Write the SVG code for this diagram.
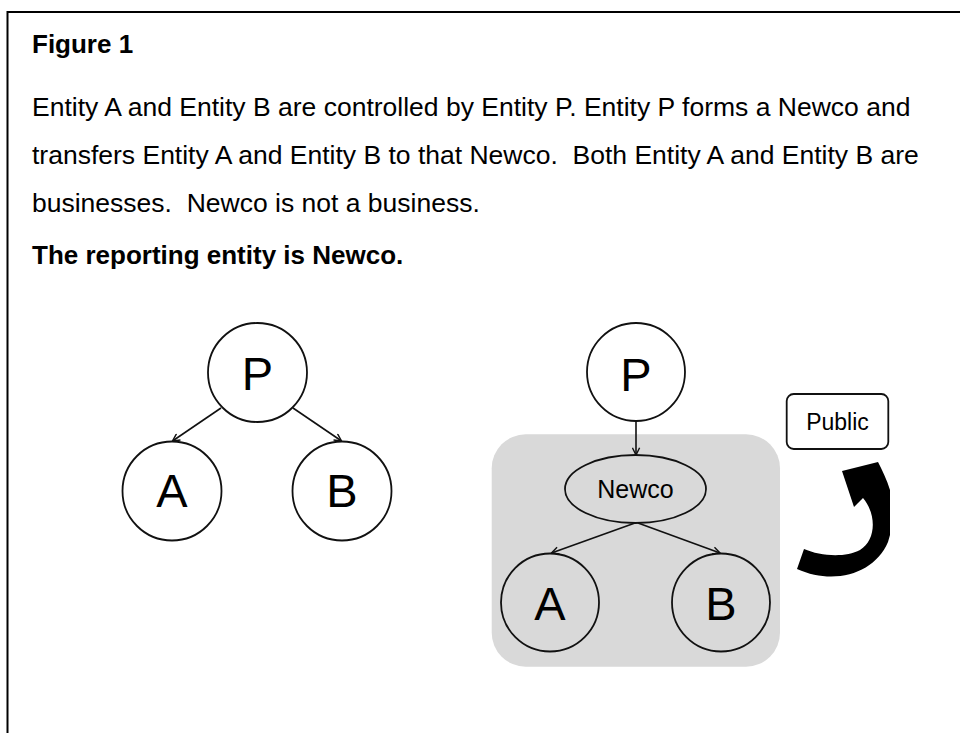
<svg xmlns="http://www.w3.org/2000/svg" width="960" height="733" viewBox="0 0 960 733">
  <defs>
    <style>
      .t { font-family: "Liberation Sans", Arial, sans-serif; fill: #000; white-space: pre; }
      .body { font-size: 26.5px; }
      .bold { font-weight: bold; font-size: 26px; }
      .big { font-size: 47px; text-anchor: middle; }
      .node { fill: none; stroke: #111; stroke-width: 1.8; }
      .conn { fill: none; stroke: #111; stroke-width: 1.6; marker-end: url(#arr); }
    </style>
    <marker id="arr" viewBox="0 0 10 10" refX="9" refY="5" markerWidth="9" markerHeight="9" markerUnits="userSpaceOnUse" orient="auto">
      <path d="M1,1 L9,5 L1,9" fill="none" stroke="#111" stroke-width="1.6"/>
    </marker>
  </defs>
  <rect width="960" height="733" fill="#fff"/>
  <path d="M7.5,733 L7.5,12 L960,12" fill="none" stroke="#000" stroke-width="2"/>

  <text class="t bold" x="32" y="53">Figure 1</text>
  <text class="t body" x="32" y="116" xml:space="preserve">Entity A and Entity B are controlled by Entity P. Entity P forms a Newco and</text>
  <text class="t body" x="32" y="164" xml:space="preserve">transfers Entity A and Entity B to that Newco.  Both Entity A and Entity B are</text>
  <text class="t body" x="32" y="212" xml:space="preserve">businesses.  Newco is not a business.</text>
  <text class="t bold" x="32" y="264">The reporting entity is Newco.</text>

  <!-- left diagram -->
  <g id="left-P">
    <circle class="node" cx="257.5" cy="372.5" r="49.5"/>
    <text class="t big" x="257.5" y="390">P</text>
  </g>
  <g id="left-A">
    <circle class="node" cx="172" cy="491" r="49.5"/>
    <text class="t big" x="172" y="506.5">A</text>
  </g>
  <g id="left-B">
    <circle class="node" cx="342" cy="491" r="49.5"/>
    <text class="t big" x="342" y="506.5">B</text>
  </g>

  <!-- right diagram -->
  <g id="group-box">
    <rect x="491.7" y="434.3" width="288.3" height="232.4" rx="34" fill="#d9d9d9"/>
  </g>
  <g id="right-P">
    <circle class="node" cx="636" cy="372" r="49" style="fill:#fff"/>
    <text class="t big" x="636" y="390.5">P</text>
  </g>
  <g id="right-Newco">
    <ellipse class="node" cx="635.5" cy="489" rx="70.5" ry="34"/>
    <text class="t" x="635.5" y="498" font-size="25" text-anchor="middle">Newco</text>
  </g>
  <g id="right-A">
    <circle class="node" cx="550" cy="602.5" r="49"/>
    <text class="t big" x="550" y="619.5">A</text>
  </g>
  <g id="right-B">
    <circle class="node" cx="721" cy="602.5" r="49"/>
    <text class="t big" x="721" y="619.5">B</text>
  </g>
  <g id="public">
    <rect x="786.7" y="394" width="101.6" height="55" rx="7" fill="#fff" stroke="#111" stroke-width="1.8"/>
    <text class="t" x="837.5" y="430" font-size="23" text-anchor="middle">Public</text>
  </g>

  <g id="connectors">
    <path class="conn" d="M221,408 L172.5,441"/>
    <path class="conn" d="M293,408 L341.5,441"/>
    <path class="conn" d="M636,421 L636,455"/>
    <path class="conn" d="M635,523 L551.5,553"/>
    <path class="conn" d="M638,523 L720,553"/>
    <path id="curved-arrow" d="M797,569 C835,586 875,573 888,542 L890,535 L890,490 C887,480 882,470 878,462 L842,471 L854,507 L863,498 C877,515 876,540 860,550 C845,558 820,556 804,549 Z" fill="#000"/>
  </g>
</svg>
